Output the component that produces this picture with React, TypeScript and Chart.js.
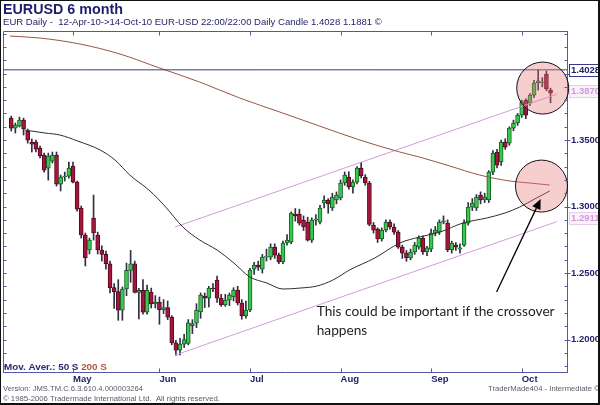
import React, { useEffect, useRef } from 'react';
import { Chart, registerables } from 'chart.js';

Chart.register(...registerables);

const TITLE = 'EURUSD 6 month';
const SUBTITLE = 'EUR Daily -  12-Apr-10->14-Oct-10 EUR-USD 22:00/22:00 Daily Candle 1.4028 1.1881 ©';
const MA_LEGEND_A = 'Mov. Aver.: 50 S ';
const MA_LEGEND_B = '200 S';
const FOOTER_VERSION = 'Version: JMS.TM.C.6.3.610.4.000003264';
const FOOTER_COPY = '© 1985-2006 Tradermade International Ltd.  All rights reserved.';
const FOOTER_RIGHT = 'TraderMade404 - Intermediate ©';
const NOTE_LINES = ['This could be important if the crossover', 'happens'];

const MONTH_LABELS = ['May', 'Jun', 'Jul', 'Aug', 'Sep', 'Oct'];
const MONTH_INDEX = [15, 36, 58, 80, 102, 124];
const Y_LABELS = [1.2, 1.25, 1.3, 1.35];
const X_MIN = -2;
const X_MAX = 135;
const Y_MIN = 1.1756;
const Y_MAX = 1.432;

const OPEN = [
  1.3665, 1.3590, 1.3605, 1.3650, 1.3568, 1.3485, 1.3485, 1.3440, 1.3387, 1.3289,
  1.3342, 1.3387, 1.3169, 1.3222, 1.3229, 1.3305, 1.3184, 1.2989, 1.2786, 1.2673,
  1.2914, 1.2786, 1.2673, 1.2640, 1.2570, 1.2390, 1.2360, 1.2220, 1.2380, 1.2520,
  1.2570, 1.2355, 1.2370, 1.2205, 1.2357, 1.2267, 1.2282, 1.2225, 1.2240, 1.2168,
  1.1975, 1.1920, 1.1965, 1.1970, 1.2105, 1.2124, 1.2207, 1.2327, 1.2312, 1.2387,
  1.2447, 1.2312, 1.2260, 1.2297, 1.2320, 1.2372, 1.2275, 1.2177, 1.2222, 1.2530,
  1.2560, 1.2530, 1.2620, 1.2620, 1.2695, 1.2635, 1.2583, 1.2726, 1.2733, 1.2944,
  1.2944, 1.2898, 1.2883, 1.2748, 1.2898, 1.2883, 1.3027, 1.3049, 1.2989, 1.3049,
  1.3064, 1.3177, 1.3222, 1.3147, 1.3184, 1.3290, 1.3222, 1.3177, 1.2861, 1.2830,
  1.2756, 1.2823, 1.2883, 1.2846, 1.2808, 1.2695, 1.2650, 1.2613, 1.2658, 1.2695,
  1.2763, 1.2658, 1.2680, 1.2800, 1.2808, 1.2883, 1.2876, 1.2673, 1.2710, 1.2680,
  1.2710, 1.2876, 1.2996, 1.2989, 1.3086, 1.3049, 1.3049, 1.3259, 1.3410, 1.3335,
  1.3485, 1.3477, 1.3590, 1.3628, 1.3688, 1.3801, 1.3778, 1.3838, 1.3929, 1.3929,
  1.3996, 1.3876,
];
const HIGH = [
  1.3680, 1.3628, 1.3673, 1.3665, 1.3583, 1.3508, 1.3500, 1.3455, 1.3402, 1.3402,
  1.3410, 1.3410, 1.3237, 1.3259, 1.3335, 1.3335, 1.3192, 1.3004, 1.2801, 1.2763,
  1.3086, 1.2808, 1.2705, 1.2665, 1.2590, 1.2420, 1.2450, 1.2395, 1.2575, 1.2670,
  1.2590, 1.2385, 1.2450, 1.2410, 1.2387, 1.2330, 1.2320, 1.2300, 1.2290, 1.2180,
  1.1995, 1.2010, 1.2040, 1.2150, 1.2150, 1.2270, 1.2350, 1.2350, 1.2400, 1.2420,
  1.2477, 1.2340, 1.2340, 1.2350, 1.2390, 1.2400, 1.2300, 1.2290, 1.2535, 1.2580,
  1.2590, 1.2640, 1.2680, 1.2720, 1.2720, 1.2650, 1.2740, 1.2790, 1.2960, 1.2985,
  1.2980, 1.2930, 1.2920, 1.2915, 1.2940, 1.3010, 1.3080, 1.3060, 1.3100, 1.3110,
  1.3200, 1.3260, 1.3262, 1.3200, 1.3300, 1.3330, 1.3240, 1.3190, 1.2880, 1.2840,
  1.2840, 1.2900, 1.2900, 1.2870, 1.2820, 1.2710, 1.2670, 1.2680, 1.2730, 1.2780,
  1.2780, 1.2700, 1.2830, 1.2850, 1.2900, 1.2930, 1.2900, 1.2740, 1.2730, 1.2720,
  1.2900, 1.3030, 1.3060, 1.3090, 1.3110, 1.3100, 1.3270, 1.3420, 1.3430, 1.3500,
  1.3510, 1.3600, 1.3650, 1.3700, 1.3800, 1.3810, 1.3850, 1.3950, 1.4028, 1.3970,
  1.4020, 1.3890,
];
const LOW = [
  1.3568, 1.3553, 1.3598, 1.3538, 1.3477, 1.3410, 1.3410, 1.3365, 1.3259, 1.3199,
  1.3327, 1.3154, 1.3117, 1.3192, 1.3214, 1.3177, 1.2966, 1.2763, 1.2553, 1.2643,
  1.2748, 1.2643, 1.2590, 1.2530, 1.2350, 1.2235, 1.2145, 1.2145, 1.2330, 1.2430,
  1.2350, 1.2155, 1.2190, 1.2190, 1.2237, 1.2237, 1.2115, 1.2195, 1.2150, 1.1960,
  1.1881, 1.1885, 1.1940, 1.1960, 1.2045, 1.2090, 1.2160, 1.2240, 1.2245, 1.2360,
  1.2280, 1.2250, 1.2250, 1.2255, 1.2290, 1.2260, 1.2153, 1.2160, 1.2210, 1.2490,
  1.2520, 1.2500, 1.2590, 1.2600, 1.2610, 1.2570, 1.2570, 1.2710, 1.2720, 1.2890,
  1.2860, 1.2820, 1.2740, 1.2730, 1.2860, 1.2870, 1.2990, 1.2950, 1.2970, 1.3020,
  1.3050, 1.3160, 1.3130, 1.3100, 1.3170, 1.3215, 1.3160, 1.2855, 1.2800, 1.2730,
  1.2740, 1.2810, 1.2830, 1.2790, 1.2685, 1.2610, 1.2588, 1.2600, 1.2640, 1.2680,
  1.2640, 1.2630, 1.2660, 1.2780, 1.2790, 1.2870, 1.2660, 1.2650, 1.2670, 1.2650,
  1.2700, 1.2860, 1.2970, 1.2970, 1.3020, 1.3030, 1.3030, 1.3240, 1.3290, 1.3310,
  1.3430, 1.3460, 1.3570, 1.3610, 1.3670, 1.3660, 1.3760, 1.3820, 1.3876, 1.3900,
  1.3870, 1.3780,
];
const CLOSE = [
  1.3590, 1.3613, 1.3650, 1.3583, 1.3500, 1.3470, 1.3432, 1.3380, 1.3274, 1.3380,
  1.3387, 1.3169, 1.3222, 1.3230, 1.3289, 1.3184, 1.2981, 1.2786, 1.2613, 1.2748,
  1.2801, 1.2673, 1.2640, 1.2570, 1.2390, 1.2360, 1.2220, 1.2380, 1.2520, 1.2570,
  1.2355, 1.2370, 1.2205, 1.2370, 1.2267, 1.2282, 1.2225, 1.2240, 1.2168, 1.1975,
  1.1920, 1.1965, 1.2000, 1.2125, 1.2120, 1.2222, 1.2335, 1.2312, 1.2387, 1.2380,
  1.2312, 1.2260, 1.2297, 1.2335, 1.2372, 1.2275, 1.2177, 1.2222, 1.2523, 1.2560,
  1.2545, 1.2620, 1.2628, 1.2695, 1.2635, 1.2583, 1.2726, 1.2748, 1.2951, 1.2930,
  1.2876, 1.2846, 1.2748, 1.2898, 1.2905, 1.2989, 1.3049, 1.3020, 1.3071, 1.3086,
  1.3177, 1.3237, 1.3147, 1.3184, 1.3290, 1.3230, 1.3177, 1.2866, 1.2823, 1.2756,
  1.2823, 1.2883, 1.2846, 1.2808, 1.2695, 1.2650, 1.2613, 1.2658, 1.2710, 1.2763,
  1.2658, 1.2690, 1.2800, 1.2823, 1.2883, 1.2892, 1.2673, 1.2725, 1.2695, 1.2690,
  1.2876, 1.2996, 1.3027, 1.3071, 1.3049, 1.3071, 1.3259, 1.3402, 1.3312, 1.3485,
  1.3447, 1.3590, 1.3628, 1.3688, 1.3786, 1.3688, 1.3838, 1.3929, 1.3945, 1.3936,
  1.3884, 1.3853,
];

const MA50_X = [3.3, 8.2, 11.8, 16.2, 21.6, 25.2, 28.8, 33.7, 37.3, 41.7, 45.8, 50, 53.8, 58, 62.1, 66, 70.1, 74.2, 78.1, 82.2, 88.3, 94.4, 99.2, 104.1, 109.7, 115.5, 119.9, 123.5, 127.1, 130.8];
const MA50_Y = [1.3575, 1.3553, 1.3538, 1.3492, 1.3425, 1.3350, 1.3237, 1.3117, 1.3004, 1.2846, 1.2748, 1.2673, 1.2583, 1.2470, 1.2425, 1.2380, 1.2387, 1.2402, 1.2447, 1.2523, 1.2613, 1.2726, 1.2771, 1.2808, 1.2876, 1.2914, 1.2951, 1.2996, 1.3056, 1.3117];
const MA200_X = [-0.3, 7.0, 16.7, 26.4, 36.1, 45.8, 55.5, 65.2, 74.9, 84.7, 94.4, 99.2, 106.5, 113.8, 121.1, 125.9, 130.8];
const MA200_Y = [1.4282, 1.4267, 1.4222, 1.4147, 1.4041, 1.3936, 1.3816, 1.3711, 1.3605, 1.3500, 1.3410, 1.3372, 1.3305, 1.3237, 1.3192, 1.3177, 1.3162];

const UPPER_X = [39.8, 132.5];
const UPPER_Y = [1.2846, 1.3845];
const LOWER_X = [39.8, 132.5];
const LOWER_Y = [1.1883, 1.2886];
const HIGH_LEVEL = 1.4028;
const TREND_LABELS = [1.3870, 1.2911];
const CIRCLE_X = [129.1, 128.8];
const CIRCLE_Y = [1.3891, 1.3154];
const ARROW_FROM = [117.9, 1.2357];
const ARROW_TO = [128.6, 1.3056];
const NOTE_AT = [74.2, 1.2177];

const FONT = 'Arial, "Liberation Sans", sans-serif';
const NAVY = '#22226a';
const AXIS = '#5656a6';

const pts = (xs: number[], ys: number[]) => xs.map((x, i) => ({ x, y: ys[i] }));

const fitFont = (ctx: CanvasRenderingContext2D, text: string, width: number, style: string, family: string) => {
  ctx.font = `${style} 100px ${family}`;
  const w = ctx.measureText(text).width;
  const size = (100 * width) / w;
  ctx.font = `${style} ${size.toFixed(2)}px ${family}`;
};

const decor = {
  id: 'decor',
  afterDatasetsDraw(chart: any) {
    const { ctx, scales } = chart;
    const xs = scales.x, ys = scales.y;
    ctx.save();
    const ax = xs.getPixelForValue(ARROW_FROM[0]);
    const ay = ys.getPixelForValue(ARROW_FROM[1]);
    const bx = xs.getPixelForValue(ARROW_TO[0]);
    const by = ys.getPixelForValue(ARROW_TO[1]);
    const ang = Math.atan2(by - ay, bx - ax);
    const hl = 10, hw = 4.5;
    const baseX = bx - hl * Math.cos(ang), baseY = by - hl * Math.sin(ang);
    ctx.strokeStyle = '#000';
    ctx.lineWidth = 1.3;
    ctx.beginPath();
    ctx.moveTo(ax, ay);
    ctx.lineTo(baseX, baseY);
    ctx.stroke();
    ctx.fillStyle = '#000';
    ctx.beginPath();
    ctx.moveTo(bx, by);
    ctx.lineTo(baseX + hw * Math.sin(ang), baseY - hw * Math.cos(ang));
    ctx.lineTo(baseX - hw * Math.sin(ang), baseY + hw * Math.cos(ang));
    ctx.closePath();
    ctx.fill();

    fitFont(ctx, NOTE_LINES[0], 238, 'normal', 'Lato');
    ctx.fillStyle = '#1e1e1e';
    ctx.textAlign = 'left';
    ctx.textBaseline = 'alphabetic';
    const nx = xs.getPixelForValue(NOTE_AT[0]);
    const ny = ys.getPixelForValue(NOTE_AT[1]);
    NOTE_LINES.forEach((t, k) => ctx.fillText(t, nx, ny + k * 19));
    ctx.restore();
  },
  afterDraw(chart: any) {
    const { ctx, chartArea: a, scales } = chart;
    const xs = scales.x, ys = scales.y;
    ctx.save();
    ctx.strokeStyle = AXIS;
    ctx.lineWidth = 1;
    const top = Math.round(a.top) + 0.5;
    const left = Math.round(a.left) + 0.5;
    const right = Math.round(a.right) + 0.5;
    const bottom = Math.round(a.bottom) + 0.5;
    ctx.beginPath();
    ctx.moveTo(left, top);
    ctx.lineTo(right, top);
    ctx.moveTo(left, top);
    ctx.lineTo(left, bottom);
    MONTH_INDEX.forEach((v) => {
      const px = Math.round(xs.getPixelForValue(v)) + 0.5;
      ctx.moveTo(px, top);
      ctx.lineTo(px, top + 4);
      ctx.moveTo(px, bottom);
      ctx.lineTo(px, bottom - 4);
    });
    for (let k = 118; k <= 143; k++) {
      const v = k / 100;
      const py = Math.round(ys.getPixelForValue(v)) + 0.5;
      if (py < top || py > bottom) continue;
      ctx.moveTo(left, py);
      ctx.lineTo(left + 3, py);
      ctx.moveTo(right - 3, py);
      ctx.lineTo(right, py);
      if (k % 5 === 0) {
        ctx.moveTo(right, py);
        ctx.lineTo(right + 3, py);
      }
    }
    ctx.stroke();

    const box = (value: number, fill: string, stroke: string, color: string, dashed: boolean) => {
      const py = Math.round(ys.getPixelForValue(value));
      ctx.save();
      ctx.fillStyle = fill;
      ctx.fillRect(569, py - 6, 31, 13);
      ctx.strokeStyle = stroke;
      ctx.lineWidth = 1;
      if (dashed) ctx.setLineDash([1, 1]);
      ctx.strokeRect(569.5, py - 5.5, 31, 12);
      ctx.setLineDash([]);
      ctx.fillStyle = color;
      ctx.font = `bold 9.5px ${FONT}`;
      ctx.textAlign = 'left';
      ctx.textBaseline = 'middle';
      ctx.fillText(value.toFixed(4), 571, py + 0.5);
      ctx.restore();
    };
    box(HIGH_LEVEL, '#ffffff', '#3a3a8c', NAVY, false);
    TREND_LABELS.forEach((v) => box(v, '#fbf1fb', '#d7a6df', '#cf9ad8', true));

    ctx.textAlign = 'left';
    ctx.textBaseline = 'alphabetic';
    ctx.fillStyle = '#1d1d6b';
    fitFont(ctx, TITLE, 120, 'bold', FONT);
    ctx.fillText(TITLE, 3, 14);
    ctx.fillStyle = '#25256e';
    fitFont(ctx, SUBTITLE, 379, 'normal', FONT);
    ctx.fillText(SUBTITLE, 3, 25);

    fitFont(ctx, MA_LEGEND_A + MA_LEGEND_B, 103, 'bold', FONT);
    ctx.fillStyle = '#2a2a72';
    ctx.fillText(MA_LEGEND_A, 4, 370);
    const wA = ctx.measureText(MA_LEGEND_A).width;
    ctx.fillStyle = '#b4553f';
    ctx.fillText(MA_LEGEND_B, 4 + wA, 370);

    ctx.fillStyle = '#5a5a6a';
    fitFont(ctx, FOOTER_VERSION, 140, 'normal', FONT);
    ctx.fillText(FOOTER_VERSION, 3, 391);
    fitFont(ctx, FOOTER_COPY, 217, 'normal', FONT);
    ctx.fillText(FOOTER_COPY, 3, 401);
    fitFont(ctx, FOOTER_RIGHT, 112, 'normal', FONT);
    ctx.fillText(FOOTER_RIGHT, 488, 391);

    ctx.fillStyle = '#111';
    ctx.fillRect(0, 0, 600, 1);
    ctx.fillRect(0, 0, 1, 405);
    ctx.fillRect(598, 0, 2, 405);
    ctx.fillRect(0, 403, 600, 2);
    ctx.restore();
  },
};

export default function App() {
  const ref = useRef<HTMLCanvasElement>(null);
  useEffect(() => {
    document.body.style.margin = '0';
    const wicks: any[] = [];
    const up: any[] = [];
    const down: any[] = [];
    for (let i = 0; i < OPEN.length; i++) {
      wicks.push({ x: i, y: [LOW[i], HIGH[i]] });
      if (CLOSE[i] >= OPEN[i]) up.push({ x: i, y: [OPEN[i], CLOSE[i]] });
      else down.push({ x: i, y: [OPEN[i], CLOSE[i]] });
    }
    const line = (data: any[], color: string, order: number, smooth: boolean) => ({
      type: 'line' as const,
      data,
      borderColor: color,
      borderWidth: 1,
      pointRadius: 0,
      fill: false,
      order,
      cubicInterpolationMode: smooth ? ('monotone' as const) : ('default' as const),
    });
    const chart = new Chart(ref.current as HTMLCanvasElement, {
      type: 'bar',
      data: {
        datasets: [
          {
            type: 'bubble',
            data: CIRCLE_X.map((x, i) => ({ x, y: CIRCLE_Y[i], r: 26 })),
            backgroundColor: 'rgba(232,120,120,0.36)',
            borderColor: '#111',
            borderWidth: 1,
            clip: false,
            order: 0,
          } as any,
          line([{ x: X_MIN, y: HIGH_LEVEL }, { x: X_MAX, y: HIGH_LEVEL }], '#3a3a8c', 1, false),
          line(pts(MA50_X, MA50_Y), '#2e2e2e', 2, true),
          line(pts(MA200_X, MA200_Y), '#9a5446', 2, true),
          line(pts(UPPER_X, UPPER_Y), '#d49ae0', 2, false),
          line(pts(LOWER_X, LOWER_Y), '#d49ae0', 2, false),
          {
            type: 'bar',
            data: up,
            backgroundColor: '#38c850',
            borderColor: '#175c25',
            borderWidth: 1,
            borderSkipped: false,
            barThickness: 4,
            minBarLength: 1,
            grouped: false,
            order: 3,
          } as any,
          {
            type: 'bar',
            data: down,
            backgroundColor: '#a3173d',
            borderColor: '#55091e',
            borderWidth: 1,
            borderSkipped: false,
            barThickness: 4,
            minBarLength: 1,
            grouped: false,
            order: 3,
          } as any,
          {
            type: 'bar',
            data: wicks,
            backgroundColor: '#2e2e44',
            borderWidth: 0,
            barThickness: 1,
            grouped: false,
            order: 4,
          } as any,
        ],
      },
      options: {
        responsive: false,
        animation: false,
        events: [],
        layout: { autoPadding: false, padding: { left: 3, top: 31, right: 0, bottom: 0 } },
        plugins: { legend: { display: false }, tooltip: { enabled: false }, title: { display: false } },
        scales: {
          x: {
            type: 'linear',
            min: X_MIN,
            max: X_MAX,
            offset: false,
            grid: { display: false, drawTicks: false, offset: false },
            border: { display: true, color: AXIS, width: 1 },
            afterBuildTicks: (s: any) => {
              s.ticks = MONTH_INDEX.map((v) => ({ value: v }));
            },
            afterFit: (s: any) => {
              s.height = 33;
              s.paddingLeft = 0;
              s.paddingRight = 0;
            },
            ticks: {
              autoSkip: false,
              maxRotation: 0,
              align: 'start',
              padding: 2,
              color: NAVY,
              font: { family: FONT, size: 9.5, weight: 'bold' },
              callback: (v: any) => {
                const k = MONTH_INDEX.indexOf(Number(v));
                return k >= 0 ? MONTH_LABELS[k] : '';
              },
            },
          },
          y: {
            type: 'linear',
            position: 'right',
            min: Y_MIN,
            max: Y_MAX,
            beginAtZero: false,
            grid: { display: false, drawTicks: false },
            border: { display: true, color: AXIS, width: 1 },
            afterBuildTicks: (s: any) => {
              const t: any[] = [];
              for (let k = 118; k <= 143; k++) t.push({ value: k / 100 });
              s.ticks = t;
            },
            afterFit: (s: any) => {
              s.width = 33;
              s.paddingTop = 0;
              s.paddingBottom = 0;
            },
            ticks: {
              autoSkip: false,
              padding: 4,
              color: NAVY,
              font: { family: FONT, size: 9.5, weight: 'bold' },
              callback: (v: any) =>
                Y_LABELS.some((l) => Math.abs(l - Number(v)) < 1e-6) ? Number(v).toFixed(4) : '',
            },
          },
        },
      },
      plugins: [decor],
    } as any);
    return () => chart.destroy();
  }, []);
  return (
    <div style={{ position: 'absolute', left: 0, top: 0, width: 600, height: 405, background: '#fff' }}>
      <canvas ref={ref} width={600} height={405} style={{ display: 'block' }} />
    </div>
  );
}
